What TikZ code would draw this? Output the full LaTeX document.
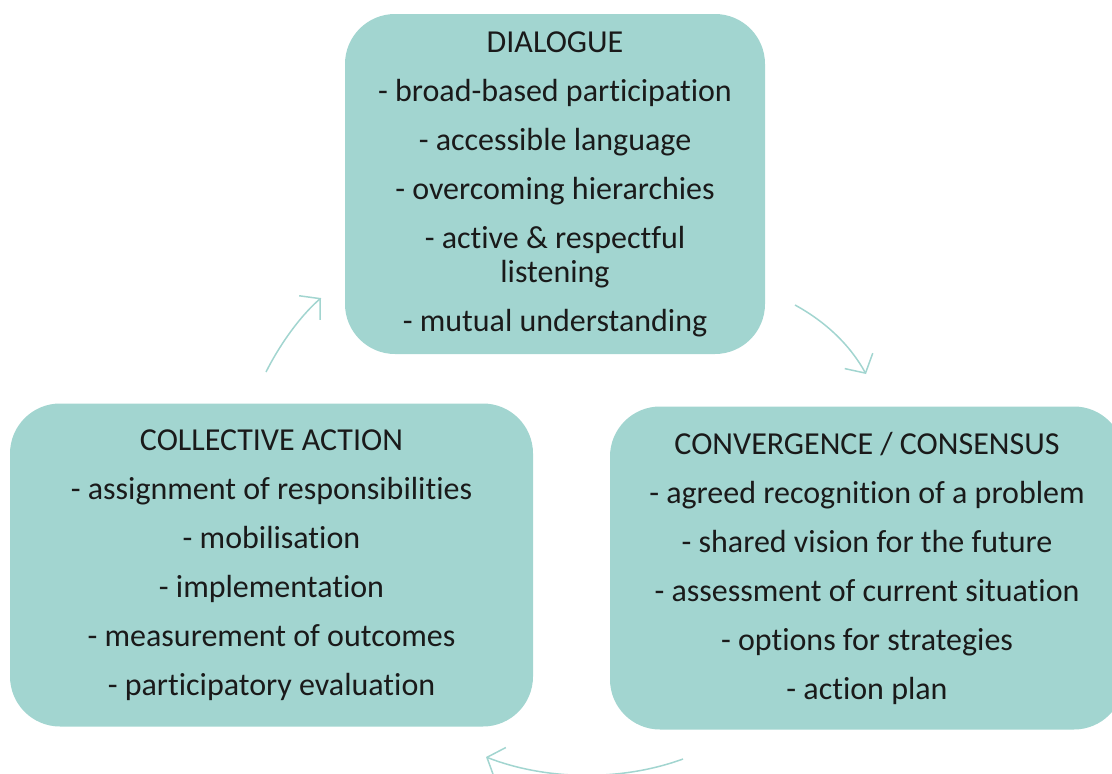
\documentclass[tikz,border=0pt]{standalone}
\usepackage{fontspec}
\setmainfont[Ligatures=NoCommon]{Carlito}
\usetikzlibrary{arrows.meta}
\definecolor{boxteal}{HTML}{A2D5D0}
\definecolor{inkgrey}{HTML}{1A1A1A}
\tikzset{
  cyclebox/.style={fill=boxteal, rounded corners=50pt, align=center, text=inkgrey,
    font=\fontsize{32}{34}\selectfont, inner sep=0pt},
  cyclearrow/.style={draw=boxteal, line width=1.5pt, -{Straight Barb[length=14pt,width=32pt,line width=1.5pt]}}
}
\begin{document}
\begin{tikzpicture}[x=1pt,y=-1pt]
  \useasboundingbox (0,0) rectangle (1112,774);
  \clip (0,0) rectangle (1112,774);
  % the three stages
  \node[cyclebox, minimum width=420pt, minimum height=340pt] (dialogue) at (555,184)
    {DIALOGUE\\[15pt]
     - broad-based participation\\[15pt]
     - accessible language\\[15pt]
     - overcoming hierarchies\\[15pt]
     - active \& respectful\\
     listening\\[15pt]
     - mutual understanding};
  \node[cyclebox, minimum width=514pt, minimum height=323pt] (consensus) at (867,568)
    {CONVERGENCE / CONSENSUS\\[15pt]
     - agreed recognition of a problem\\[15pt]
     - shared vision for the future\\[15pt]
     - assessment of current situation\\[15pt]
     - options for strategies\\[15pt]
     - action plan};
  \node[cyclebox, minimum width=523pt, minimum height=323pt] (action) at (271.5,565)
    {COLLECTIVE ACTION\\[15pt]
     - assignment of responsibilities\\[15pt]
     - mobilisation\\[15pt]
     - implementation\\[15pt]
     - measurement of outcomes\\[15pt]
     - participatory evaluation};
  % arrow ends
  \coordinate (actionout) at (266,372);
  \coordinate (dialoguein) at (321,298);
  \coordinate (dialogueout) at (795,305);
  \coordinate (consensusin) at (866,374);
  \coordinate (consensusout) at (683,759);
  \coordinate (actionin) at (486,757);
  \draw[cyclearrow] (actionout) .. controls (278,348) and (298,318) .. (dialoguein);
  \draw[cyclearrow] (dialogueout) .. controls (826,322) and (850,345) .. (consensusin);
  \draw[cyclearrow] (consensusout) .. controls (620,782) and (545,780) .. (actionin);
\end{tikzpicture}
\end{document}
